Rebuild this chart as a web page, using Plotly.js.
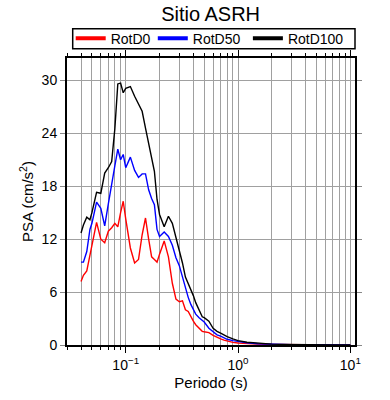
<!DOCTYPE html>
<html><head><meta charset="utf-8">
<script src="https://cdn.plot.ly/plotly-3.0.1.min.js"></script>
<style>html,body{margin:0;padding:0;background:#fff}</style>
</head><body>
<div id="chart" style="width:390px;height:400px"></div>
<script>
const periods = [0.04,0.042,0.045,0.048,0.05,0.055,0.06,0.065,0.07,0.075,0.08,0.085,0.09,0.095,0.1,0.11,0.12,0.13,0.14,0.15,0.16,0.17,0.18,0.19,0.2,0.22,0.24,0.26,0.28,0.3,0.32,0.34,0.36,0.38,0.4,0.42,0.45,0.48,0.5,0.55,0.6,0.65,0.7,0.75,0.8,0.9,1.0,1.2,1.5,2.0,2.5,3.0,4.0,5.0,6.0,7.5,10];
const rotD0 = [7.2,7.9,8.4,10.2,11.6,13.9,12.0,11.6,12.9,13.3,13.8,13.4,15.0,16.3,14.3,11.0,9.3,9.7,12.5,14.4,12.0,10.0,9.7,9.4,10.3,11.8,10.0,7.0,5.2,4.9,5.0,4.0,3.8,3.2,2.7,2.3,1.85,1.55,1.5,1.4,1.1,0.85,0.7,0.55,0.45,0.3,0.22,0.15,0.1,0.06,0.04,0.03,0.02,0.012,0.01,0.007,0.005];
const rotD50 = [9.4,9.4,10.6,13.1,13.8,16.2,15.5,13.5,16.0,18.0,20.3,22.2,21.0,21.6,20.1,21.3,19.8,19.0,19.4,19.4,17.6,16.6,15.9,13.1,12.3,12.8,12.3,11.3,9.9,9.0,7.7,6.4,5.4,4.6,4.0,3.5,3.1,2.8,2.6,1.9,1.45,1.15,1.0,0.8,0.65,0.5,0.38,0.25,0.15,0.08,0.05,0.04,0.025,0.015,0.012,0.008,0.006];
const rotD100 = [12.7,13.6,14.5,14.2,15.0,17.3,17.2,19.5,20.1,20.8,24.5,29.6,29.7,28.6,29.1,29.3,28.2,27.3,26.5,24.6,22.8,21.4,19.7,16.5,14.8,13.4,14.6,13.8,12.2,10.9,9.3,7.7,7.0,6.4,5.6,4.8,3.9,3.2,3.1,2.7,1.9,1.55,1.35,1.1,0.95,0.7,0.5,0.32,0.2,0.1,0.07,0.05,0.03,0.02,0.015,0.01,0.008];
const seriesNames = ['RotD0','RotD50','RotD100'];
const seriesColors = ['#ff0000','#0000ff','#000000'];
const xTickVals = [0.1,1,10];
const xTickText = ['10<sup>\u22121</sup>','10<sup>0</sup>','10<sup>1</sup>'];
const yTickVals = [0,6,12,18,24,30];

const allSeries = [rotD0, rotD50, rotD100];
const legendIds = ['legend','legend2','legend3'];
const traces = [];
allSeries.forEach((vals,i)=>{
  traces.push({x:periods, y:vals, type:'scatter', mode:'lines', name:seriesNames[i],
    line:{color:seriesColors[i], width:1.4}, showlegend:false, hoverinfo:'skip'});
});
allSeries.forEach((vals,i)=>{
  traces.push({x:[null], y:[null], type:'scatter', mode:'lines', name:seriesNames[i],
    line:{color:seriesColors[i], width:4}, showlegend:true, legend:legendIds[i]});
});

const font = 'Liberation Sans, Arial, sans-serif';
const plotL = 67.3, plotW = 287.7, plotB = 345.3, plotH = 287;
const px2x = p => (p - plotL) / plotW;
const px2y = p => (plotB - p) / plotH;
function legendAt(leftPx){
  return {orientation:'h', x:px2x(leftPx), xanchor:'left', y:px2y(39), yanchor:'middle',
    borderwidth:0, bgcolor:'rgba(0,0,0,0)', font:{size:14, family:font, color:'#000'}};
}
const layout = {
  width:390, height:400,
  margin:{l:67.3, r:35, t:58.3, b:54.7, pad:0},
  paper_bgcolor:'#fff', plot_bgcolor:'#fff',
  font:{family:font, color:'#000', size:14},
  title:{text:'Sitio ASRH', x:0.54, xanchor:'center', y:0.966, yanchor:'middle', yref:'container', font:{size:20, family:font}},
  showlegend:true,
  legend:legendAt(71),
  legend2:legendAt(153),
  legend3:legendAt(248),
  shapes:[{type:'rect', xref:'paper', yref:'paper', x0:px2x(73), x1:px2x(355), y0:px2y(49), y1:px2y(29),
    line:{color:'#000', width:1.5}, fillcolor:'rgba(0,0,0,0)', layer:'below'}],
  xaxis:{type:'log', range:[Math.log10(0.03), Math.log10(11)],
    tickmode:'array', tickvals:xTickVals, ticktext:xTickText,
    ticks:'outside', ticklen:6, tickwidth:1, tickcolor:'#000',
    showline:true, linecolor:'#000', linewidth:2, mirror:'allticks',
    showgrid:true, gridcolor:'#a0a0a0', gridwidth:1,
    minor:{dtick:'D1', ticks:'outside', ticklen:3, tickcolor:'#000', showgrid:true, gridcolor:'#a0a0a0', gridwidth:1},
    zeroline:false, tickfont:{size:14},
    title:{text:'Periodo (s)', font:{size:15}, standoff:6}},
  yaxis:{range:[0,32.54], tickmode:'array', tickvals:yTickVals,
    ticks:'outside', ticklen:5, tickwidth:1, tickcolor:'#888',
    showline:true, linecolor:'#000', linewidth:2, mirror:'allticks',
    showgrid:true, gridcolor:'#a0a0a0', gridwidth:1, zeroline:false,
    tickfont:{size:14},
    title:{text:'PSA (cm/s<sup>2</sup>)', font:{size:15}, standoff:4}}
};
Plotly.newPlot('chart', traces, layout, {staticPlot:true, displayModeBar:false});
</script>
</body></html>
